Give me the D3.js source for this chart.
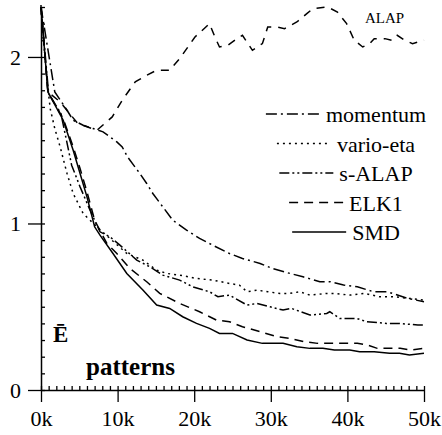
<!DOCTYPE html>
<html>
<head>
<meta charset="utf-8">
<script src="https://cdn.jsdelivr.net/npm/d3@7"></script>
<style>
    body { margin: 0; background: #fff; }
    svg { display: block; }
    text { font-family: "Liberation Serif", "Times New Roman", "DejaVu Serif", serif; }
</style>
</head>
<body>
<div id="chart"></div>
<script>
// tick values
var xMajor = [0, 10, 20, 30, 40, 50];
var yMajor = [0, 1, 2];

// series as [k patterns, error]
var momentum = [[0, 2.30], [1.8, 1.79], [3.4, 1.68], [4.2, 1.62], [5.5, 1.59], [6.8, 1.57], [8.1, 1.55], [9.9, 1.49],
    [10.6, 1.46], [11.3, 1.40], [12.9, 1.30], [13.8, 1.24], [14.6, 1.18], [15.9, 1.10], [17.2, 1.02], [19.0, 0.96],
    [20.7, 0.91], [22.4, 0.87], [24.6, 0.82], [26.3, 0.79], [28.6, 0.76], [30.2, 0.73], [32.5, 0.70], [34.2, 0.68],
    [36.4, 0.65], [37.8, 0.65], [39.5, 0.63], [41.3, 0.62], [43.4, 0.59], [45.2, 0.59], [47.9, 0.55], [50, 0.53]];

var varioEta = [[0, 2.30], [0.65, 1.92], [1.2, 1.69], [1.8, 1.57], [2.5, 1.46], [3.4, 1.30], [4.2, 1.18], [5.5, 1.06],
    [7.3, 0.98], [9.0, 0.91], [11.2, 0.82], [13.3, 0.78], [15.1, 0.72], [16.4, 0.70], [18.1, 0.69], [20.3, 0.67],
    [22.4, 0.66], [24.6, 0.64], [25.9, 0.63], [26.9, 0.59], [28.2, 0.60], [29.6, 0.59], [31.2, 0.58], [32.5, 0.58],
    [33.8, 0.59], [35.1, 0.57], [37.3, 0.58], [38.3, 0.58], [40.3, 0.57], [42.2, 0.58], [44.2, 0.56], [46.2, 0.56],
    [48.1, 0.55], [50, 0.54]];

var sAlap = [[0, 2.30], [1.0, 1.78], [2.6, 1.66], [4.0, 1.35], [5.1, 1.22], [6.4, 1.08], [7.7, 0.95], [9.0, 0.92],
    [10.3, 0.87], [12.5, 0.78], [14.2, 0.74], [15.9, 0.69], [18.1, 0.66], [19.8, 0.62], [22.0, 0.59], [23.1, 0.56],
    [24.6, 0.57], [26.9, 0.51], [28.2, 0.52], [29.9, 0.50], [31.6, 0.48], [32.7, 0.49], [35.1, 0.45], [37.3, 0.46],
    [37.7, 0.47], [39.0, 0.43], [41.2, 0.43], [42.5, 0.41], [45.1, 0.40], [46.8, 0.40], [49.2, 0.39], [50, 0.39]];

var elk1 = [[0, 2.30], [0.9, 1.79], [2.9, 1.63], [4.2, 1.46], [5.1, 1.33], [6.0, 1.19], [7.0, 1.02], [8.6, 0.88],
    [9.9, 0.82], [11.6, 0.73], [13.8, 0.65], [15.5, 0.58], [18.1, 0.52], [20.7, 0.47], [22.9, 0.42], [24.6, 0.41],
    [26.3, 0.38], [28.6, 0.35], [30.8, 0.32], [32.5, 0.31], [34.3, 0.29], [36.1, 0.28], [37.8, 0.28], [39.5, 0.28],
    [41.3, 0.28], [42.6, 0.27], [43.9, 0.25], [45.6, 0.25], [46.9, 0.25], [48.2, 0.24], [50, 0.25]];

var smd = [[0, 2.30], [0.9, 1.79], [2.9, 1.62], [4.2, 1.44], [5.1, 1.30], [6.0, 1.16], [7.0, 0.98], [7.7, 0.93],
    [9.4, 0.82], [11.2, 0.70], [13.3, 0.60], [15.1, 0.51], [16.8, 0.49], [18.5, 0.44], [20.3, 0.40], [22.0, 0.37],
    [23.3, 0.34], [25.0, 0.34], [26.9, 0.30], [28.9, 0.28], [31.6, 0.28], [33.4, 0.26], [35.1, 0.25], [36.8, 0.25],
    [38.3, 0.24], [40.3, 0.24], [41.6, 0.23], [43.5, 0.23], [45.5, 0.22], [46.8, 0.22], [48.1, 0.21], [50, 0.22]];

var alap = [[0, 2.30], [0.9, 1.79], [2.5, 1.73], [4.8, 1.60], [7.3, 1.56], [9.3, 1.64], [10.6, 1.74], [12.3, 1.85],
    [13.8, 1.89], [15.1, 1.92], [16.8, 1.92], [18.1, 1.99], [20.1, 2.12], [22.0, 2.20], [22.7, 2.12], [23.3, 2.06],
    [24.4, 2.07], [25.6, 2.11], [26.3, 2.13], [27.6, 2.04], [28.9, 2.08], [29.6, 2.18], [30.8, 2.18], [31.8, 2.17],
    [33.4, 2.21], [34.7, 2.26], [35.5, 2.29], [37.4, 2.30], [38.7, 2.27], [39.9, 2.20], [40.9, 2.10], [42.0, 2.06],
    [42.9, 2.08], [43.5, 2.11], [44.9, 2.11], [45.8, 2.10], [46.5, 2.13], [47.5, 2.10], [48.5, 2.08], [50, 2.10]];

var legendNames = ['momentum', 'vario-eta', 's-ALAP', 'ELK1', 'SMD'];

// dash patterns per series
var dashes = {
    'momentum': '11,4,2,4',
    'vario-eta': '2,4',
    's-ALAP': '10,3,2,3,2,3',
    'ELK1': '9,6',
    'SMD': null,
    'ALAP': '8,7'
};

var serif = '"Liberation Serif", "Times New Roman", "DejaVu Serif", serif';
var width = 442, height = 435;

var svg = d3.select('#chart').append('svg')
    .attr('width', width)
    .attr('height', height)
    .attr('font-family', serif);

var x = d3.scaleLinear().domain([0, 50]).range([41, 424]);
var y = d3.scaleLinear().domain([0, 2.3]).range([390, 7]);

// minor ticks
svg.append('g')
    .attr('transform', 'translate(0,390)')
    .call(d3.axisTop(x).tickValues(d3.range(0, 51)).tickSize(4).tickSizeOuter(0).tickFormat(''))
    .call(function(g){ g.select('.domain').remove(); });

svg.append('g')
    .attr('transform', 'translate(41,0)')
    .call(d3.axisRight(y).tickValues(d3.range(0, 24).map(function(d){ return d / 10; })).tickSize(4).tickSizeOuter(0).tickFormat(''))
    .call(function(g){ g.select('.domain').remove(); });

// major axes
var xAxis = svg.append('g')
    .attr('transform', 'translate(0,390)')
    .call(d3.axisBottom(x).tickValues(xMajor).tickSize(12).tickSizeOuter(0).tickPadding(8)
        .tickFormat(function(d){ return d + 'k'; }));

var yAxis = svg.append('g')
    .attr('transform', 'translate(41,0)')
    .call(d3.axisLeft(y).tickValues(yMajor).tickSize(13).tickSizeOuter(0).tickPadding(7)
        .tickFormat(d3.format('d')));

svg.selectAll('g').attr('font-family', serif);
xAxis.selectAll('text').attr('font-size', 22).attr('fill', '#000');
yAxis.selectAll('text').attr('font-size', 22).attr('fill', '#000');
svg.selectAll('.domain, .tick line').attr('stroke', '#000').attr('stroke-width', 1.5);
svg.selectAll('.tick line').attr('stroke-width', 1.3);

// y axis line a bit above the last tick
svg.append('line')
    .attr('x1', 41).attr('x2', 41)
    .attr('y1', y(2.3)).attr('y2', y(2.3) - 2)
    .attr('stroke', '#000').attr('stroke-width', 1.5);

// curves
var line = d3.line()
    .x(function(d){ return x(d[0]); })
    .y(function(d){ return y(d[1]); });

var series = [
    {name: 'ALAP', values: alap},
    {name: 'momentum', values: momentum},
    {name: 'vario-eta', values: varioEta},
    {name: 's-ALAP', values: sAlap},
    {name: 'ELK1', values: elk1},
    {name: 'SMD', values: smd}
];

svg.selectAll('path.curve')
    .data(series)
    .enter().append('path')
        .attr('class', 'curve')
        .attr('d', function(d){ return line(d.values); })
        .attr('fill', 'none')
        .attr('stroke', '#000')
        .attr('stroke-width', 1.5)
        .attr('stroke-dasharray', function(d){ return dashes[d.name]; });

// legend
var legend = svg.append('g');
var baseY = 122, stepY = 29.5;

legendNames.forEach(function(name, i){
    var ty = baseY + i * stepY;
    var label = legend.append('text')
        .attr('x', 376)
        .attr('y', ty)
        .attr('text-anchor', 'middle')
        .attr('font-size', 22)
        .text(name);
    var start = 376 - label.node().getComputedTextLength() / 2;
    legend.append('line')
        .attr('x1', start - 60).attr('x2', start - 6)
        .attr('y1', ty - 8).attr('y2', ty - 8)
        .attr('stroke', '#000')
        .attr('stroke-width', 1.5)
        .attr('stroke-dasharray', dashes[name]);
});

// ALAP label
svg.append('text')
    .attr('x', 365).attr('y', 23)
    .attr('font-size', 15)
    .text('ALAP');

// axis labels inside plot
svg.append('text')
    .attr('x', 53).attr('y', 342)
    .attr('font-size', 23)
    .attr('font-weight', 'bold')
    .text('\u0112');

svg.append('text')
    .attr('x', 86).attr('y', 375)
    .attr('font-size', 25)
    .attr('font-weight', 'bold')
    .text('patterns');
</script>
</body>
</html>
